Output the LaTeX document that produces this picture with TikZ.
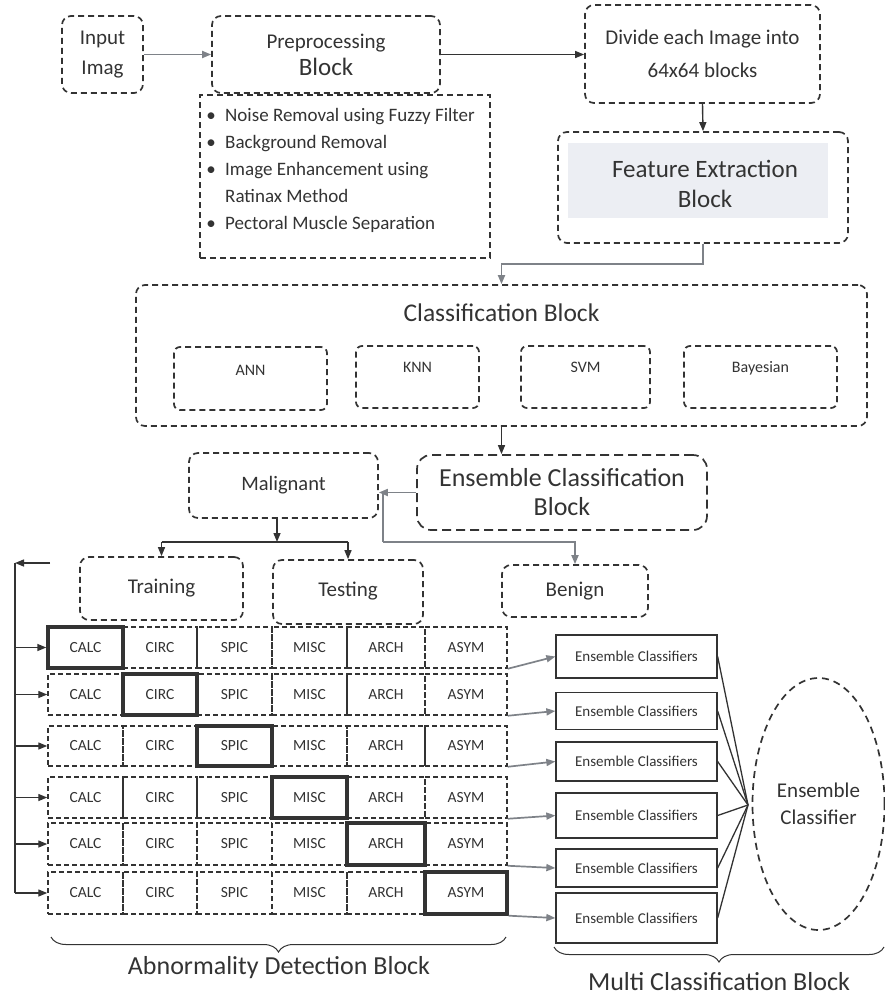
\documentclass[tikz,border=0pt]{standalone}
\usepackage{fontspec}
\setmainfont{Carlito}
\usetikzlibrary{arrows.meta,decorations.pathreplacing,shapes.geometric,calc}
\definecolor{ink}{HTML}{333333}
\definecolor{garrow}{HTML}{7E8288}
\definecolor{shadebg}{HTML}{ECEEF3}
\newcommand{\fsz}[2]{\fontsize{#1}{#2}\selectfont}
\begin{document}
\begin{tikzpicture}[x=1pt,y=-1pt,
  dbox/.style={draw=ink, line width=1.7pt, dash pattern=on 6pt off 4pt, rounded corners=9pt, inner sep=0pt, align=center, text=ink},
  sqbox/.style={draw=ink, line width=1.7pt, dash pattern=on 6pt off 4pt, inner sep=0pt},
  cell/.style={draw=ink, line width=1.5pt, dash pattern=on 5pt off 3pt, inner sep=0pt, text=ink, font=\fsz{15.5}{17}},
  hot/.style={draw=ink, line width=3.4pt, inner sep=0pt, text=ink, font=\fsz{15.5}{17}},
  ecbox/.style={draw=ink, line width=1.3pt, inner sep=0pt, text=ink, font=\fsz{15}{17}, minimum width=161pt},
  txt/.style={inner sep=0pt, text=ink, align=center},
  barr/.style={draw=ink, line width=1.4pt, -{Triangle[length=9pt,width=7pt]}},
  garr/.style={draw=garrow, line width=1.7pt, -{Triangle[length=9pt,width=7pt]}},
  brc/.style={draw=ink, line width=1pt, decorate, decoration={brace, mirror, amplitude=15pt}}
]
\useasboundingbox (0,0) rectangle (885,996);

% ---- top row
\node[dbox, minimum width=81pt, minimum height=77pt, font=\fsz{21}{30}] (inp) at (102.5,54.5) {Input\\Imag};
\node[dbox, minimum width=228pt, minimum height=77pt, font=\fsz{21}{27}] (pre) at (326,54.5) {Preprocessing\\\fsz{25}{27}Block};
\node[dbox, minimum width=235pt, minimum height=98pt, font=\fsz{21}{33}] (div) at (702.5,54) {Divide each Image into\\64x64 blocks};

% ---- bullet box
\node[sqbox, minimum width=290pt, minimum height=163pt] (bul) at (345,176.5) {};
\node[txt, anchor=north west, align=left, font=\fsz{19}{27}] (bult) at (203,108) {%
\makebox[22pt][l]{\,•}Noise Removal using Fuzzy Filter\\
\makebox[22pt][l]{\,•}Background Removal\\
\makebox[22pt][l]{\,•}Image Enhancement using\\
\makebox[22pt][l]{}Ratinax Method\\
\makebox[22pt][l]{\,•}Pectoral Muscle Separation};

% ---- feature extraction
\node[dbox, minimum width=290pt, minimum height=111pt] (fe) at (703,187.5) {};
\node[fill=shadebg, minimum width=260pt, minimum height=75pt, inner sep=0pt] (fsh) at (698,180.5) {};
\node[txt, font=\fsz{25}{30}] (fet) at (705,184) {Feature Extraction\\Block};

% ---- classification block
\node[dbox, minimum width=731pt, minimum height=141pt] (cls) at (501.5,355.5) {};
\node[txt, font=\fsz{25.5}{28}] (clst) at (501.5,313) {Classification Block};
\node[dbox, minimum width=153pt, minimum height=63pt, font=\fsz{16}{17}, rounded corners=6pt] (ann) at (250.5,378.5) {ANN\\};
\node[dbox, minimum width=123pt, minimum height=62pt, font=\fsz{16}{17}, rounded corners=6pt] (knn) at (417.5,377) {KNN\\[3pt]};
\node[dbox, minimum width=129pt, minimum height=62pt, font=\fsz{16}{17}, rounded corners=6pt] (svm) at (585.5,377) {SVM\\[3pt]};
\node[dbox, minimum width=153pt, minimum height=62pt, font=\fsz{16}{17}, rounded corners=6pt] (bay) at (760.5,377) {Bayesian\\[3pt]};

% ---- ensemble classification, malignant, benign
\node[dbox, minimum width=290pt, minimum height=75pt, font=\fsz{26}{29}, rounded corners=14pt, dash pattern=on 9pt off 5pt] (ens) at (562,492.5) {Ensemble Classification\\Block};
\node[dbox, minimum width=189pt, minimum height=65pt, font=\fsz{20.5}{22}] (mal) at (283.5,485.5) {\raisebox{3pt}{Malignant}};
\node[dbox, minimum width=146pt, minimum height=52pt, font=\fsz{21}{22}] (ben) at (575,591) {Benign};
\node[dbox, minimum width=163pt, minimum height=63pt, font=\fsz{21}{22}] (trn) at (161.5,588.5) {\raisebox{5pt}{Training}};
\node[dbox, minimum width=150pt, minimum height=64pt, font=\fsz{21}{22}] (tst) at (348,592) {\raisebox{5pt}{Testing}};

% ---- grid of abnormality cells
\foreach \r/\y/\h in {1/647.5/41, 2/694.5/41, 3/746/40, 4/797.5/41, 5/844/42, 6/893/42} {
  \foreach \c/\x/\w/\t in {1/85.5/75/CALC, 2/160/74/CIRC, 3/234.5/75/SPIC, 4/309.5/75/MISC, 5/386/78/ARCH, 6/466/82/ASYM} {
    \ifnum\c=\r\relax\def\st{hot}\else\def\st{cell}\fi
    \node[\st, minimum width=\w pt, minimum height=\h pt] (c\r-\c) at (\x,\y) {\t};
  }
}

% ---- ensemble classifiers
\foreach \r/\y/\h in {1/656.5/43, 2/711/37, 3/761.5/39, 4/815.5/45, 5/868/38, 6/918/50} {
  \node[ecbox, minimum height=\h pt] (ec\r) at (636.5,\y) {Ensemble Classifiers};
}
\node[ellipse, draw=ink, line width=1.7pt, dash pattern=on 7pt off 5pt, minimum width=132pt, minimum height=252pt, inner sep=0pt, text=ink, align=center, font=\fsz{21}{27}] (ecl) at (818.5,804) {Ensemble\\Classifier};
\coordinate (hub) at (748,805);

% ---- connectors
\draw[garr] (inp.east) -- (pre.west);
\draw[barr] (pre.east) -- (pre.east -| div.west);
\draw[barr] (div.south) -- (fe.north);
\coordinate (fk) at (703,264);
\draw[garr] (fe.south) -- (fk) -| (cls.north);
\draw[barr] (cls.south) -- (cls.south |- ens.north);
\draw[garr] (ens.west) -- (ens.west -| mal.east);
\coordinate (jn) at (383,492.5);
\coordinate (bend) at (383,542);
\draw[draw=garrow, line width=1.7pt] (jn) -- (bend);
\draw[garr] (bend) -| (ben.north);
\coordinate (split) at (277,542);
\draw[barr] (split |- mal.south) -- (split);
\draw[ink, line width=1.4pt] (split -| trn.north) -- (split -| tst.north);
\draw[barr] (split -| trn.north) -- (trn.north);
\draw[barr] (split -| tst.north) -- (tst.north);

\coordinate (lts) at (50,563);
\coordinate (lt) at (15,563);
\draw[barr] (lts) -- (lt);
\draw[ink, line width=1.4pt] (lt) -- (lt |- c6-1.west);
\foreach \r in {1,...,6} {
  \draw[barr] (lt |- c\r-1.west) -- (c\r-1.west);
  \draw[garr] (c\r-6.south east) -- (ec\r.west);
  \draw[ink, line width=1.3pt] (ec\r.east) -- (hub);
}

% ---- braces and labels
\coordinate (ab1) at (51,937);
\coordinate (ab2) at (506,937);
\draw[brc] (ab1) -- (ab2);
\node[txt, font=\fsz{26}{28}] (abl) at (279,968) {Abnormality Detection Block};
\coordinate (mc1) at (554,947);
\coordinate (mc2) at (884,947);
\draw[brc] (mc1) -- (mc2);
\node[txt, font=\fsz{26}{28}] (mcl) at (719,982) {Multi Classification Block};
\end{tikzpicture}
\end{document}
